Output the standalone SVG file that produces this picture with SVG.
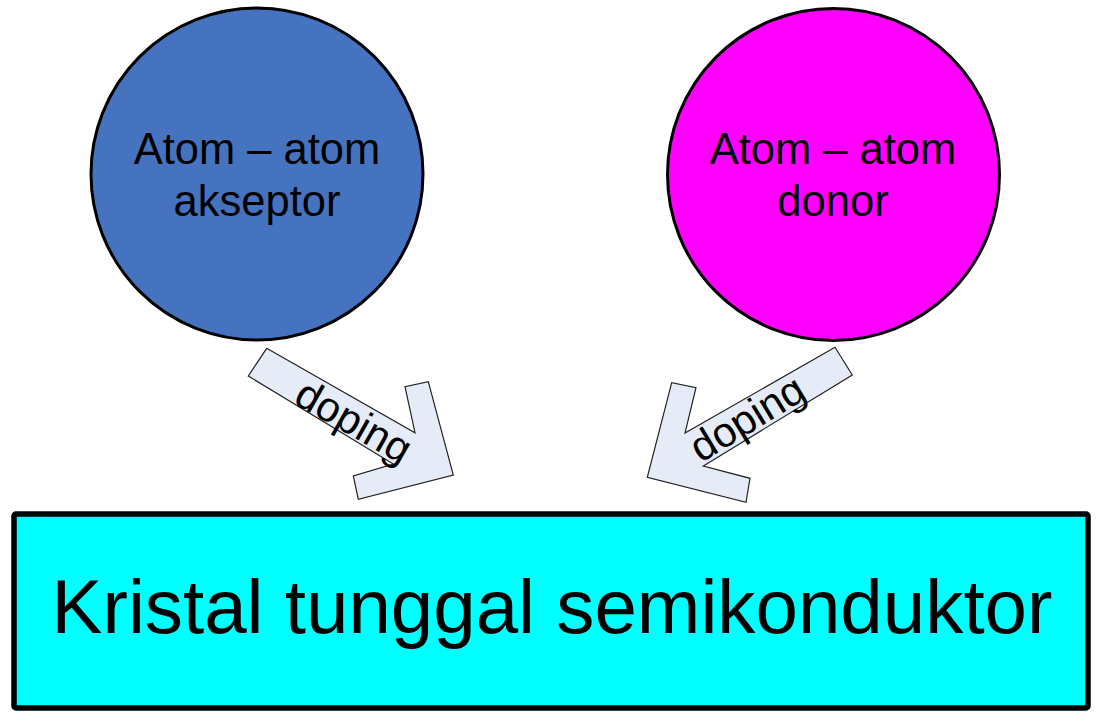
<svg xmlns="http://www.w3.org/2000/svg" width="1102" height="723" viewBox="0 0 1102 723">
<style>
.lbl{font-family:"Liberation Sans",Arial,sans-serif;fill:#000;text-anchor:middle}
.circ{stroke:#000;stroke-width:3}
.arr{fill:#E6ECF7;stroke:#222;stroke-width:1.2;stroke-linejoin:miter}
</style>
<rect width="1102" height="723" fill="#fff"/>
<g id="connectors">
<g id="arrow-left">
<polygon class="arr" points="266.7,348.3 415,432.7 405,386.7 428.3,381.7 453.3,475 358.3,499.3 353.3,476 393.3,464 248.3,376"/>
<text class="lbl" font-size="42" dominant-baseline="central" transform="translate(354,421) rotate(29.6)">doping</text>
</g>
<g id="arrow-right">
<polygon class="arr" points="835,347.3 852.3,375 703.3,466 750,478.3 746,502.3 647.3,477.3 671.7,382.7 696,387.7 685,433"/>
<text class="lbl" font-size="42" dominant-baseline="central" transform="translate(747,418) rotate(-31.4)">doping</text>
</g>
</g>
<g id="node-akseptor">
<circle class="circ" cx="257" cy="174" r="166" fill="#4673BF"/>
<text class="lbl" font-size="43.5" x="257" y="164">Atom – atom</text>
<text class="lbl" font-size="43.5" x="257" y="216">akseptor</text>
</g>
<g id="node-donor">
<circle class="circ" cx="833.5" cy="174.5" r="166" fill="#FF00FF"/>
<text class="lbl" font-size="43.5" x="833" y="164">Atom – atom</text>
<text class="lbl" font-size="43.5" x="833" y="216">donor</text>
</g>
<g id="node-kristal">
<rect x="14" y="514" width="1074" height="194" rx="2" fill="#00FFFF" stroke="#000" stroke-width="5.5"/>
<text class="lbl" font-size="76.3" x="552" y="633">Kristal tunggal semikonduktor</text>
</g>
</svg>
